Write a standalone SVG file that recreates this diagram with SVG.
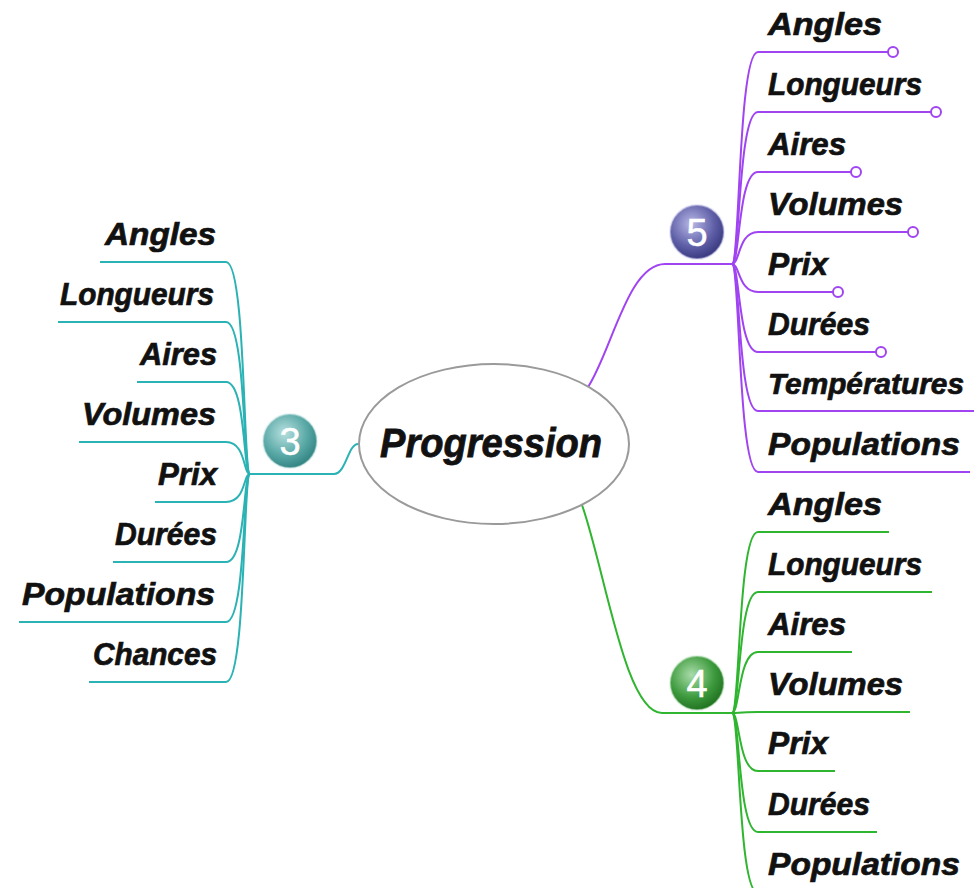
<svg xmlns="http://www.w3.org/2000/svg" width="974" height="888" viewBox="0 0 974 888">
<defs>
<style>
.lbl{font-family:"Liberation Sans","DejaVu Sans",sans-serif;font-weight:bold;font-style:italic;font-size:32px;fill:#111;stroke:#111;stroke-width:0.7}
.main{font-family:"Liberation Sans","DejaVu Sans",sans-serif;font-weight:bold;font-style:italic;font-size:40px;fill:#111;stroke:#111;stroke-width:0.8}
.num{font-family:"Liberation Sans","DejaVu Sans",sans-serif;font-size:38px;fill:#fff;stroke:#ffffff;stroke-width:0.5}
.teal{fill:none;stroke:#2ab2b4;stroke-width:2}
.purple{fill:none;stroke:#a044f2;stroke-width:2}
.green{fill:none;stroke:#2fb52f;stroke-width:2}
.pdot{fill:#fff;stroke:#a044f2;stroke-width:2}
.ring{stroke-width:2;stroke-opacity:0.5}
</style>
<radialGradient id="gT" cx="0.4" cy="0.35" r="0.7">
<stop offset="0" stop-color="#b7e0df"/><stop offset="0.6" stop-color="#58a8a6"/><stop offset="1" stop-color="#2d7f7d"/>
</radialGradient>
<radialGradient id="gP" cx="0.4" cy="0.35" r="0.7">
<stop offset="0" stop-color="#b8b8e6"/><stop offset="0.6" stop-color="#5f5fa8"/><stop offset="1" stop-color="#34347a"/>
</radialGradient>
<radialGradient id="gG" cx="0.4" cy="0.35" r="0.7">
<stop offset="0" stop-color="#a9dca9"/><stop offset="0.6" stop-color="#3d9a3d"/><stop offset="1" stop-color="#1d6d1d"/>
</radialGradient>
</defs>
<rect width="974" height="888" fill="#fff"/>

<g id="connectors">
<!-- teal -->
<path class="teal" d="M358,444 C348,444 346,474 334,474 L250,474"/>
<path class="teal" d="M250,474 C243,474 246,262 226,262 L100,262"/>
<path class="teal" d="M250,474 C243,474 246,322 226,322 L58,322"/>
<path class="teal" d="M250,474 C243,474 246,382 226,382 L137,382"/>
<path class="teal" d="M250,474 C243,474 246,442 226,442 L79,442"/>
<path class="teal" d="M250,474 C243,474 246,502 226,502 L155,502"/>
<path class="teal" d="M250,474 C243,474 246,562 226,562 L113,562"/>
<path class="teal" d="M250,474 C243,474 246,622 226,622 L19,622"/>
<path class="teal" d="M250,474 C243,474 246,682 226,682 L89,682"/>
<!-- purple -->
<path class="purple" d="M588,387 C612,350 628,264 665,264 L732,264"/>
<path class="purple" d="M732,264 C740,264 738,52 758,52 L888,52"/>
<path class="purple" d="M732,264 C740,264 738,112 758,112 L931,112"/>
<path class="purple" d="M732,264 C740,264 738,172 758,172 L851,172"/>
<path class="purple" d="M732,264 C740,264 738,232 758,232 L908,232"/>
<path class="purple" d="M732,264 C740,264 738,292 758,292 L833,292"/>
<path class="purple" d="M732,264 C740,264 738,352 758,352 L876,352"/>
<path class="purple" d="M732,264 C740,264 738,411 758,411 L974,411"/>
<path class="purple" d="M732,264 C740,264 738,472 758,472 L970,472"/>
<circle class="pdot" cx="893" cy="52" r="5"/>
<circle class="pdot" cx="936" cy="112" r="5"/>
<circle class="pdot" cx="856" cy="172" r="5"/>
<circle class="pdot" cx="913" cy="232" r="5"/>
<circle class="pdot" cx="838" cy="292" r="5"/>
<circle class="pdot" cx="881" cy="352" r="5"/>
<!-- green -->
<path class="green" d="M582,505 C605,570 625,713 662,713 L732,713"/>
<path class="green" d="M732,713 C740,713 738,532 758,532 L889,532"/>
<path class="green" d="M732,713 C740,713 738,592 758,592 L932,592"/>
<path class="green" d="M732,713 C740,713 738,652 758,652 L852,652"/>
<path class="green" d="M732,713 C740,713 738,712 758,712 L910,712"/>
<path class="green" d="M732,713 C740,713 738,771 758,771 L835,771"/>
<path class="green" d="M732,713 C740,713 738,832 758,832 L877,832"/>
<path class="green" d="M732,713 C740,713 738,893 758,893 L965,893"/>
</g>

<g id="center">
<ellipse cx="494" cy="444" rx="135" ry="80" fill="#fff" stroke="#9a9a9a" stroke-width="2"/>
<text class="main" x="491" y="457" text-anchor="middle" textLength="222" lengthAdjust="spacingAndGlyphs">Progression</text>
</g>

<g id="badge3"><circle class="ring" cx="290" cy="441" r="27" fill="url(#gT)" stroke="#cfe9e8"/><text class="num" x="290" y="455" text-anchor="middle">3</text></g>
<g id="badge5"><circle class="ring" cx="697" cy="232" r="27" fill="url(#gP)" stroke="#d2d2ef"/><text class="num" x="697" y="246" text-anchor="middle">5</text></g>
<g id="badge4"><circle class="ring" cx="697" cy="683" r="27" fill="url(#gG)" stroke="#cdeccd"/><text class="num" x="697" y="697" text-anchor="middle">4</text></g>

<g id="left-labels">
<g id="l3-angles"><text class="lbl" x="216" y="245" text-anchor="end" textLength="111" lengthAdjust="spacingAndGlyphs">Angles</text></g>
<g id="l3-longueurs"><text class="lbl" x="214" y="305" text-anchor="end" textLength="154" lengthAdjust="spacingAndGlyphs">Longueurs</text></g>
<g id="l3-aires"><text class="lbl" x="217" y="365" text-anchor="end" textLength="77" lengthAdjust="spacingAndGlyphs">Aires</text></g>
<g id="l3-volumes"><text class="lbl" x="216" y="425" text-anchor="end" textLength="134" lengthAdjust="spacingAndGlyphs">Volumes</text></g>
<g id="l3-prix"><text class="lbl" x="217" y="485" text-anchor="end" textLength="59" lengthAdjust="spacingAndGlyphs">Prix</text></g>
<g id="l3-durees"><text class="lbl" x="217" y="545" text-anchor="end" textLength="102" lengthAdjust="spacingAndGlyphs">Durées</text></g>
<g id="l3-populations"><text class="lbl" x="215" y="605" text-anchor="end" textLength="193" lengthAdjust="spacingAndGlyphs">Populations</text></g>
<g id="l3-chances"><text class="lbl" x="217" y="665" text-anchor="end" textLength="124" lengthAdjust="spacingAndGlyphs">Chances</text></g>
</g>

<g id="purple-labels">
<g id="l5-angles"><text class="lbl" x="768" y="35" textLength="114" lengthAdjust="spacingAndGlyphs">Angles</text></g>
<g id="l5-longueurs"><text class="lbl" x="768" y="95" textLength="154" lengthAdjust="spacingAndGlyphs">Longueurs</text></g>
<g id="l5-aires"><text class="lbl" x="768" y="155" textLength="78" lengthAdjust="spacingAndGlyphs">Aires</text></g>
<g id="l5-volumes"><text class="lbl" x="768" y="215" textLength="135" lengthAdjust="spacingAndGlyphs">Volumes</text></g>
<g id="l5-prix"><text class="lbl" x="768" y="275" textLength="60" lengthAdjust="spacingAndGlyphs">Prix</text></g>
<g id="l5-durees"><text class="lbl" x="768" y="335" textLength="102" lengthAdjust="spacingAndGlyphs">Durées</text></g>
<g id="l5-temperatures"><text class="lbl" x="768" y="394" style="font-size:29px" textLength="196" lengthAdjust="spacingAndGlyphs">Températures</text></g>
<g id="l5-populations"><text class="lbl" x="768" y="455" textLength="192" lengthAdjust="spacingAndGlyphs">Populations</text></g>
</g>

<g id="green-labels">
<g id="l4-angles"><text class="lbl" x="768" y="515" textLength="114" lengthAdjust="spacingAndGlyphs">Angles</text></g>
<g id="l4-longueurs"><text class="lbl" x="768" y="575" textLength="154" lengthAdjust="spacingAndGlyphs">Longueurs</text></g>
<g id="l4-aires"><text class="lbl" x="768" y="635" textLength="78" lengthAdjust="spacingAndGlyphs">Aires</text></g>
<g id="l4-volumes"><text class="lbl" x="768" y="695" textLength="135" lengthAdjust="spacingAndGlyphs">Volumes</text></g>
<g id="l4-prix"><text class="lbl" x="768" y="754" textLength="60" lengthAdjust="spacingAndGlyphs">Prix</text></g>
<g id="l4-durees"><text class="lbl" x="768" y="815" textLength="102" lengthAdjust="spacingAndGlyphs">Durées</text></g>
<g id="l4-populations"><text class="lbl" x="768" y="875" textLength="192" lengthAdjust="spacingAndGlyphs">Populations</text></g>
</g>
</svg>
